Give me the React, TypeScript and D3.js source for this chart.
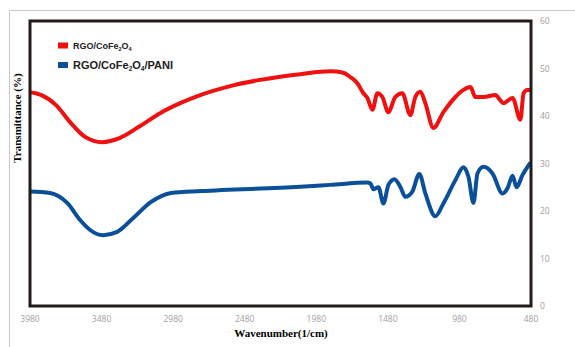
import React from "react";
import * as d3 from "d3";

const xTicks = [3980, 3480, 2980, 2480, 1980, 1480, 980, 480];
const yTicks = [0, 10, 20, 30, 40, 50, 60];

const redWave = [3980, 3900, 3798, 3700, 3595, 3476, 3351, 3211, 3071, 2931, 2791, 2581, 2372, 2092, 1882, 1791, 1742, 1693, 1651, 1623, 1588, 1553, 1518, 1477, 1428, 1379, 1323, 1288, 1253, 1218, 1162, 1092, 1008, 952, 903, 868, 812, 728, 707, 672, 609, 554, 532, 505, 484];
const redT = [45.0, 44.4, 42.3, 38.7, 35.6, 34.5, 35.4, 37.9, 40.6, 42.7, 44.4, 46.3, 47.6, 48.8, 49.4, 49.1, 48.2, 46.9, 44.8, 43.8, 41.3, 44.8, 44.0, 40.8, 44.0, 44.8, 40.2, 44.0, 45.1, 42.7, 37.5, 40.8, 44.0, 45.5, 46.1, 44.0, 44.0, 44.4, 43.8, 42.7, 43.8, 39.2, 44.8, 45.5, 45.5];

const blueWave = [3980, 3840, 3720, 3630, 3560, 3470, 3371, 3253, 3134, 2994, 2785, 2092, 1882, 1623, 1602, 1581, 1546, 1511, 1476, 1434, 1393, 1358, 1309, 1260, 1218, 1148, 1092, 1008, 952, 917, 882, 854, 812, 749, 679, 644, 609, 581, 539, 484];
const blueT = [24.1, 23.8, 21.7, 18.1, 16.0, 14.9, 15.6, 18.7, 21.9, 23.8, 24.2, 25.1, 25.5, 26.0, 25.8, 24.6, 25.0, 21.6, 25.5, 26.7, 25.1, 23.0, 24.1, 27.8, 23.7, 18.9, 21.6, 26.5, 29.2, 27.2, 21.7, 27.9, 29.3, 27.9, 23.7, 24.8, 27.4, 25.0, 27.6, 30.2];

const RED = "#f01010";
const BLUE = "#0a4f9a";

export default function App() {
  const x = d3.scaleLinear().domain([3980, 480]).range([30, 531]);
  const y = d3.scaleLinear().domain([0, 60]).range([306, 21]);
  const line = d3
    .line<[number, number]>()
    .x((d) => x(d[0]))
    .y((d) => y(d[1]))
    .curve(d3.curveMonotoneX);
  const redData = redWave.map((w, i) => [w, redT[i]] as [number, number]);
  const blueData = blueWave.map((w, i) => [w, blueT[i]] as [number, number]);

  const tickStyle = { fontFamily: "'Open Sans', 'DejaVu Sans', sans-serif", fontSize: 8.5, fill: "#a0a0a0" };
  const legendFont1 = { fontFamily: "'Liberation Sans', Arial, sans-serif", fontSize: 9, fontWeight: 700, fill: "#222" };
  const legendFont2 = { fontFamily: "'Liberation Sans', Arial, sans-serif", fontSize: 11, fontWeight: 700, fill: "#222" };

  return (
    <svg width={575} height={347} style={{ position: "absolute", left: 0, top: 0 }}>
      <rect x={0} y={0} width={575} height={347} fill="#fff" />
      <path d="M9.5,347 L9.5,10.5 L575,10.5" fill="none" stroke="#c8c8c8" strokeWidth={1} />
      <path d={line(redData) || ""} fill="none" stroke={RED} strokeWidth={4} strokeLinejoin="round" />
      <path d={line(blueData) || ""} fill="none" stroke={BLUE} strokeWidth={4} strokeLinejoin="round" />
      <rect x={x(3980)} y={y(60)} width={x(480) - x(3980)} height={y(0) - y(60)} fill="none" stroke="#231a1a" strokeWidth={3} />
      {xTicks.map((t) => (
        <text key={t} x={x(t)} y={322} textAnchor="middle" style={tickStyle}>
          {t}
        </text>
      ))}
      {yTicks.map((t) => (
        <text key={t} x={540} y={y(t) + 3} textAnchor="start" style={tickStyle}>
          {t}
        </text>
      ))}
      <text x={281} y={337} textAnchor="middle" style={{ fontFamily: "'Liberation Serif', 'Times New Roman', serif", fontSize: 11, fontWeight: 700 }}>
        Wavenumber(1/cm)
      </text>
      <text
        transform={`translate(21,118) rotate(-90)`}
        textAnchor="middle"
        style={{ fontFamily: "'Liberation Serif', 'Times New Roman', serif", fontSize: 11, fontWeight: 700 }}
      >
        Transmittance (%)
      </text>
      <rect x={58} y={42.5} width={10} height={6} fill={RED} />
      <text x={73} y={49} style={legendFont1}>
        RGO/CoFe<tspan fontSize={5.5} dy={1.5}>2</tspan>
        <tspan dy={-1.5}>O</tspan>
        <tspan fontSize={5.5} dy={1.5}>4</tspan>
      </text>
      <rect x={58} y={62} width={10} height={6} fill={BLUE} />
      <text x={73} y={69} style={legendFont2}>
        RGO/CoFe<tspan fontSize={6.5} dy={2}>2</tspan>
        <tspan dy={-2}>O</tspan>
        <tspan fontSize={6.5} dy={2}>4</tspan>
        <tspan dy={-2}>/PANI</tspan>
      </text>
    </svg>
  );
}
